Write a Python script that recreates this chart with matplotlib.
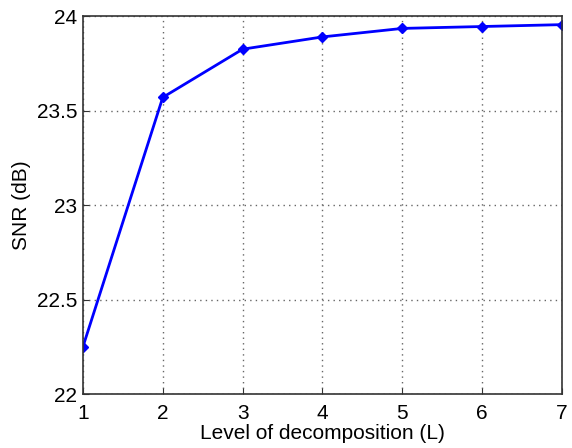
import matplotlib
matplotlib.use("Agg")
import matplotlib.pyplot as plt

plt.rcParams['font.family'] = ['Liberation Sans', 'DejaVu Sans']

levels = [1, 2, 3, 4, 5, 6, 7]
snr = [22.25, 23.57, 23.825, 23.89, 23.935, 23.945, 23.955]
yticks = [22, 22.5, 23, 23.5, 24]

fig = plt.figure(figsize=(5.72, 4.48), dpi=100)
ax = fig.add_axes([0.145, 0.1205, 0.8375, 0.8435])

ax.plot(levels, snr, color='#0000ff', linewidth=2, marker='D', markersize=5.5)

ax.set_xlim(1, 7)
ax.set_ylim(22, 24)
ax.set_xticks(levels)
ax.set_yticks(yticks)
ax.set_yticklabels(['22', '22.5', '23', '23.5', '24'])
ax.grid(True, linestyle=(0, (1, 3)), color='#666666', linewidth=1.0)
ax.tick_params(direction='in', labelsize=15, length=4, color='#333333')
ax.tick_params(axis='x', pad=7)
ax.tick_params(axis='y', pad=4)
for s in ax.spines.values():
    s.set_color('#333333')
    s.set_linewidth(1.2)

ax.set_xlabel('Level of decomposition (L)', fontsize=15, labelpad=1)
ax.set_ylabel('SNR (dB)', fontsize=15, labelpad=4)

fig.savefig('out.png', dpi=100)
